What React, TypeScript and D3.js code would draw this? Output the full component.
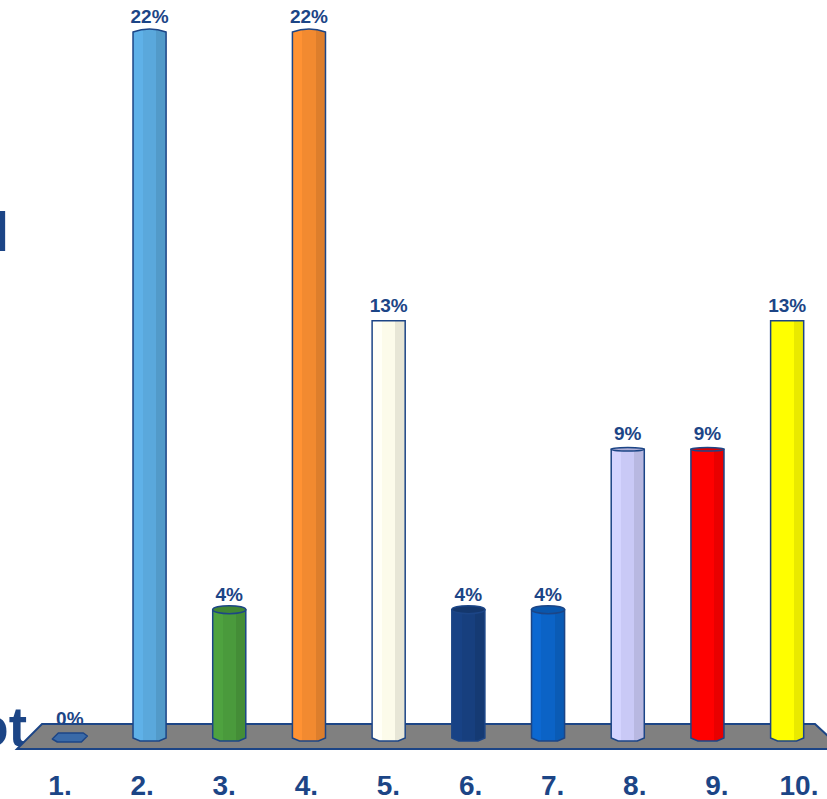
import * as d3 from 'd3'

const categories = ['1.', '2.', '3.', '4.', '5.', '6.', '7.', '8.', '9.', '10.']
const percents = [0, 22, 4, 22, 13, 4, 4, 9, 9, 13]
const barColors = ['#3a6aa8', '#5aa8dc', '#4a9a3c', '#f28a30', '#fcfbea', '#173f7e', '#0b63c6', '#c9c9f6', '#ff0000', '#ffff00']
const sideTexts = ['Poll', 'Robot']

const W = 827
const H = 799
const ink = '#1c4586'

export default function App() {
  const x = d3.scaleBand<string>().domain(categories).range([30, 827]).paddingInner(0.585).paddingOuter(0.2925)
  const xl = d3.scalePoint<string>().domain(categories).range([60, 799])
  const y = d3.scaleLinear().domain([0, 22]).range([738, 32])
  const bw = x.bandwidth()
  const eye = 321

  const floor = d3.line()([[42, 724], [815, 724], [842, 749], [17, 749]]) + 'Z'

  return (
    <svg width={W} height={H} style={{ position: 'absolute', left: 0, top: 0 }} fontFamily="Arial, 'Liberation Sans', sans-serif">
      <defs>
        {barColors.map((c, i) => {
          const base = d3.color(c)!
          return (
            <linearGradient key={i} id={'g' + i} x1="0" x2="1" y1="0" y2="0">
              <stop offset="0" stopColor={base.brighter(0.15).toString()} />
              <stop offset="0.3" stopColor={base.brighter(0.15).toString()} />
              <stop offset="0.3" stopColor={c} />
              <stop offset="0.7" stopColor={c} />
              <stop offset="0.7" stopColor={base.darker(0.25).toString()} />
              <stop offset="1" stopColor={base.darker(0.25).toString()} />
            </linearGradient>
          )
        })}
      </defs>
      <rect width={W} height={H} fill="#fff" />
      <text x={9} y={251} textAnchor="end" fontSize={55} fontWeight="bold" fill={ink}>{sideTexts[0]}</text>
      <text x={27} y={746} textAnchor="end" fontSize={55} fontWeight="bold" fill={ink}>{sideTexts[1]}</text>
      <path d={floor} fill="#808080" stroke={ink} strokeWidth={2} />
      {categories.map((cat, i) => {
        const x0 = x(cat)!
        const cx = x0 + bw / 2
        const top = y(percents[i])
        const bottom = y(0)
        const c = barColors[i]
        const cap = d3.color(c)!.darker(0.4).toString()
        const label = (
          <text x={xl(cat)} y={795} textAnchor="middle" fontSize={28} fontWeight="bold" fill={ink}>{cat}</text>
        )
        if (percents[i] === 0) {
          const disk = d3.line()([[x0 - 1, bottom + 1], [x0 + 5, bottom - 5], [x0 + bw - 3, bottom - 5], [x0 + bw + 1, bottom - 2], [x0 + bw - 5, bottom + 4], [x0 + 4, bottom + 4]]) + 'Z'
          return (
            <g key={cat}>
              <path d={disk} fill={c} stroke={ink} strokeWidth={1.5} strokeLinejoin="round" />
              <text x={cx} y={bottom - 13} textAnchor="middle" fontSize={19} fontWeight="bold" fill={ink}>{percents[i]}%</text>
              {label}
            </g>
          )
        }
        const ry = Math.max(-3, (top - eye) / 72)
        const p = d3.path()
        p.moveTo(x0, bottom)
        p.lineTo(x0 + 7, bottom + 3)
        p.lineTo(x0 + bw - 7, bottom + 3)
        p.lineTo(x0 + bw, bottom)
        p.lineTo(x0 + bw, top)
        if (ry < 0) p.quadraticCurveTo(cx, top + 2 * ry, x0, top)
        else p.lineTo(x0, top)
        p.closePath()
        return (
          <g key={cat}>
            <path d={p.toString()} fill={`url(#g${i})`} stroke={ink} strokeWidth={1.5} />
            {ry > 0.5 && <ellipse cx={cx} cy={top} rx={bw / 2} ry={ry} fill={cap} stroke={ink} strokeWidth={1.5} />}
            <text x={cx} y={top - 9} textAnchor="middle" fontSize={19} fontWeight="bold" fill={ink}>{percents[i]}%</text>
            {label}
          </g>
        )
      })}
    </svg>
  )
}
